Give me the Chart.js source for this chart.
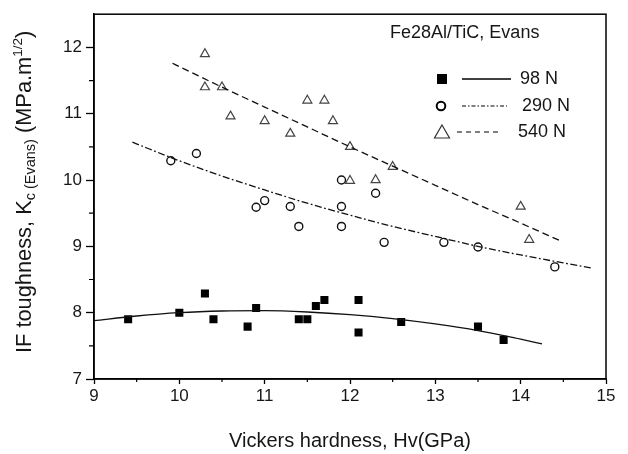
<!DOCTYPE html>
<html>
<head>
<meta charset="utf-8">
<script src="https://cdn.jsdelivr.net/npm/chart.js@4.4.0/dist/chart.umd.min.js"></script>
<style>
  body { margin: 0; background: #fff; }
  #wrap { width: 628px; height: 454px; }
</style>
</head>
<body>
<div id="wrap"><canvas id="toughnessChart" width="628" height="454"></canvas></div>
<script>
// Indentation load labels
const loads = ["98 N", "290 N", "540 N"];

// Measured points, Vickers hardness (GPa) vs Kc (MPa.m^1/2)
const hv98 = [9.4, 10.0, 10.3, 10.4, 10.8, 10.9, 11.4, 11.5, 11.6, 11.7, 12.1, 12.1, 12.6, 13.5, 13.8];
const kc98 = [7.90, 8.00, 8.29, 7.90, 7.79, 8.07, 7.90, 7.90, 8.10, 8.19, 8.19, 7.70, 7.86, 7.79, 7.59];
const hv290 = [9.9, 10.2, 10.9, 11.0, 11.3, 11.4, 11.9, 11.9, 11.9, 12.3, 12.4, 13.1, 13.5, 14.4];
const kc290 = [10.29, 10.40, 9.59, 9.69, 9.60, 9.30, 10.00, 9.60, 9.30, 9.80, 9.06, 9.06, 8.99, 8.69];
const hv540 = [10.3, 10.3, 10.5, 10.6, 11.0, 11.3, 11.5, 11.7, 11.8, 12.0, 12.0, 12.3, 12.5, 14.0, 14.1];
const kc540 = [11.90, 11.40, 11.40, 10.96, 10.89, 10.70, 11.20, 11.20, 10.89, 10.50, 9.99, 10.00, 10.20, 9.60, 9.10];

// Fitted curves
const fitHv98 = [9.0, 9.5, 10.0, 10.5, 11.0, 11.5, 12.0, 12.5, 13.0, 13.5, 14.0, 14.25];
const fitKc98 = [7.88, 7.95, 8.00, 8.025, 8.03, 8.01, 7.97, 7.91, 7.83, 7.73, 7.60, 7.53];
const fitHv290 = [9.45, 10.0, 10.5, 11.0, 11.5, 12.0, 12.5, 13.0, 13.5, 14.0, 14.5, 14.85];
const fitKc290 = [10.57, 10.29, 10.06, 9.85, 9.65, 9.47, 9.30, 9.15, 9.00, 8.87, 8.75, 8.67];
const fitHv540 = [9.92, 10.0, 10.5, 11.0, 11.5, 12.0, 12.5, 13.0, 13.5, 14.0, 14.47];
const fitKc540 = [11.76, 11.71, 11.40, 11.10, 10.80, 10.50, 10.21, 9.92, 9.63, 9.35, 9.08];

// Axis ticks
const xTicks = [9, 10, 11, 12, 13, 14, 15];
const yTicks = [7, 8, 9, 10, 11, 12];

const FONT = "'Liberation Sans', Arial, Helvetica, sans-serif";
const INK = "#161616";

function toPoints(xs, ys) {
  return xs.map((x, i) => ({ x: x, y: ys[i] }));
}

/**
 * Frame, minor ticks, y title with sub/superscript and the inset legend
 */
const decorPlugin = {
  id: "decor",
  afterDraw(chart) {
    const ctx = chart.ctx;
    const area = chart.chartArea;
    const xs = chart.scales.x;
    const ys = chart.scales.y;

    ctx.save();
    // plot frame
    ctx.strokeStyle = "#000";
    ctx.lineWidth = 1.5;
    ctx.strokeRect(area.left, area.top, area.right - area.left, area.bottom - area.top);

    // minor ticks
    ctx.lineWidth = 1.2;
    ctx.beginPath();
    for (let i = 0; i < xTicks.length - 1; i++) {
      const px = xs.getPixelForValue(xTicks[i] + 0.5);
      ctx.moveTo(px, area.bottom);
      ctx.lineTo(px, area.bottom + 3);
    }
    for (let i = 0; i < yTicks.length - 1; i++) {
      const py = ys.getPixelForValue(yTicks[i] + 0.5);
      ctx.moveTo(area.left - 5, py);
      ctx.lineTo(area.left, py);
    }
    ctx.stroke();

    // y axis title
    ctx.fillStyle = INK;
    ctx.translate(31, 353);
    ctx.rotate(-Math.PI / 2);
    ctx.textBaseline = "alphabetic";
    ctx.textAlign = "left";
    let x = 0;
    const parts = [
      { t: "IF toughness, K", size: 21.8, dy: 0 },
      { t: "c (Evans)", size: 14.5, dy: 4 },
      { t: " (MPa.m", size: 21.8, dy: 0 },
      { t: "1/2", size: 13.5, dy: -9 },
      { t: ")", size: 21.8, dy: 0 },
    ];
    parts.forEach(function (p) {
      ctx.font = p.size + "px " + FONT;
      ctx.fillText(p.t, x, p.dy);
      x += ctx.measureText(p.t).width;
    });
    ctx.restore();

    // inset legend
    ctx.save();
    ctx.fillStyle = INK;
    ctx.font = "18px " + FONT;
    ctx.textBaseline = "middle";
    ctx.fillText("Fe28Al/TiC, Evans", 390, 33);

    const rows = [79, 106, 132];
    // row 1: filled square, solid line
    ctx.fillStyle = "#000";
    ctx.fillRect(437, rows[0] - 5, 10, 10);
    ctx.strokeStyle = "#000";
    ctx.lineWidth = 1.3;
    ctx.beginPath();
    ctx.moveTo(462, rows[0]);
    ctx.lineTo(511, rows[0]);
    ctx.stroke();
    // row 2: open circle, dash-dot line
    ctx.lineWidth = 2;
    ctx.beginPath();
    ctx.arc(441, rows[1], 4.3, 0, Math.PI * 2);
    ctx.stroke();
    ctx.lineWidth = 1.2;
    ctx.setLineDash([4, 2, 1.5, 2]);
    ctx.beginPath();
    ctx.moveTo(462, rows[1]);
    ctx.lineTo(507, rows[1]);
    ctx.stroke();
    // row 3: open triangle, dashed line
    ctx.setLineDash([]);
    ctx.strokeStyle = "#333";
    ctx.lineWidth = 1.2;
    ctx.beginPath();
    ctx.moveTo(442, rows[2] - 7);
    ctx.lineTo(449.5, rows[2] + 6);
    ctx.lineTo(434.5, rows[2] + 6);
    ctx.closePath();
    ctx.stroke();
    ctx.strokeStyle = "#000";
    ctx.setLineDash([5, 4]);
    ctx.beginPath();
    ctx.moveTo(457, rows[2]);
    ctx.lineTo(500, rows[2]);
    ctx.stroke();
    ctx.setLineDash([]);

    ctx.fillStyle = INK;
    ctx.fillText(loads[0], 520, rows[0]);
    ctx.fillText(loads[1], 522, rows[1]);
    ctx.fillText(loads[2], 518, rows[2]);
    ctx.restore();
  },
};

document.addEventListener("DOMContentLoaded", function () {
  const ctx = document.getElementById("toughnessChart").getContext("2d");
  Chart.defaults.font.family = FONT;
  Chart.defaults.color = INK;

  const fitStyle = {
    showLine: true,
    pointRadius: 0,
    pointHoverRadius: 0,
    borderColor: "#111",
    borderWidth: 1.3,
    cubicInterpolationMode: "monotone",
    fill: false,
  };

  new Chart(ctx, {
    type: "scatter",
    data: {
      datasets: [
        Object.assign({ label: loads[0] + " fit", data: toPoints(fitHv98, fitKc98) }, fitStyle),
        Object.assign({ label: loads[1] + " fit", data: toPoints(fitHv290, fitKc290) }, fitStyle, { borderDash: [7, 2.5, 1.8, 2.5], borderWidth: 1.3 }),
        Object.assign({ label: loads[2] + " fit", data: toPoints(fitHv540, fitKc540) }, fitStyle, { borderDash: [7, 4] }),
        {
          label: loads[0],
          data: toPoints(hv98, kc98),
          pointStyle: "rect",
          pointRadius: 5.7,
          backgroundColor: "#000",
          borderColor: "#000",
          borderWidth: 0,
        },
        {
          label: loads[1],
          data: toPoints(hv290, kc290),
          pointStyle: "circle",
          pointRadius: 4,
          backgroundColor: "rgba(0,0,0,0)",
          borderColor: "#111",
          borderWidth: 1.4,
        },
        {
          label: loads[2],
          data: toPoints(hv540, kc540),
          pointStyle: "triangle",
          pointRadius: 5.2,
          backgroundColor: "rgba(0,0,0,0)",
          borderColor: "#444",
          borderWidth: 1.2,
        },
      ],
    },
    options: {
      responsive: false,
      animation: false,
      layout: { padding: { top: 5, right: 22, left: 0, bottom: 0 } },
      plugins: {
        legend: { display: false },
        tooltip: { enabled: false },
      },
      scales: {
        x: {
          type: "linear",
          min: 9,
          max: 15,
          afterFit: function (scale) { scale.height = 75; },
          afterBuildTicks: function (scale) {
            scale.ticks = xTicks.map((v) => ({ value: v }));
          },
          ticks: {
            font: { size: 17 },
            color: INK,
            padding: 2,
            maxRotation: 0,
          },
          grid: { drawOnChartArea: false, tickLength: 5, tickColor: "#000", tickWidth: 1.3 },
          border: { color: "#000", width: 1.5 },
          title: {
            display: true,
            text: "Vickers hardness, Hv(GPa)",
            font: { size: 20 },
            color: INK,
            padding: { top: 0, bottom: 1 },
          },
        },
        y: {
          type: "linear",
          min: 7,
          max: 12.5,
          afterFit: function (scale) { scale.width = 94; },
          afterBuildTicks: function (scale) {
            scale.ticks = yTicks.map((v) => ({ value: v }));
          },
          ticks: {
            font: { size: 17 },
            color: INK,
            padding: 4,
          },
          grid: { drawOnChartArea: false, tickLength: 8, tickColor: "#000", tickWidth: 1.3 },
          border: { color: "#000", width: 1.5 },
        },
      },
    },
    plugins: [decorPlugin],
  });
});
</script>
</body>
</html>
